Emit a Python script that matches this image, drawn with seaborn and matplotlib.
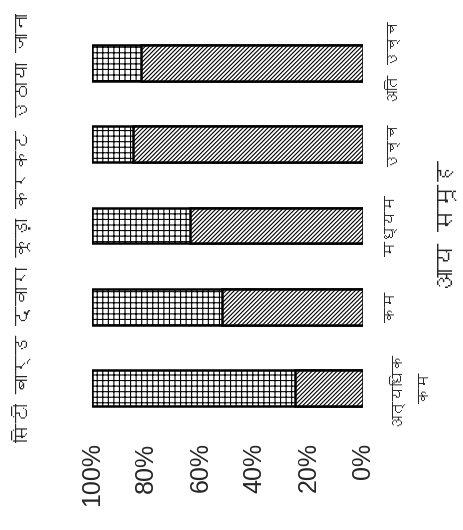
import matplotlib
matplotlib.use("Agg")
import matplotlib.pyplot as plt
from matplotlib import font_manager
from matplotlib.ft2font import FT2Font
import seaborn as sns

# data
categories = ['अत्यधिक\nकम', 'कम', 'मध्यम', 'उच्च', 'अति उच्च']
collected = [25, 52, 64, 85, 82]      # hatched part, from 0%
not_collected = [75, 48, 36, 15, 18]  # brick part, up to 100%
value_ticks = [0, 20, 40, 60, 80, 100]
title = 'सिटी बार्ड द्वारा कूड़ा करकट उठाया जाना'
xlabel = 'आय समूह'


def find_devanagari_font():
    for f in font_manager.fontManager.ttflist:
        try:
            if 0x0915 in FT2Font(f.fname).get_charmap():
                return f.name
        except Exception:
            pass
    return None


sns.set_theme(style='white')
deva = find_devanagari_font()
fams = ([deva] if deva else []) + ['Liberation Sans', 'DejaVu Sans']
plt.rcParams['font.family'] = fams
plt.rcParams['hatch.linewidth'] = 0.8

fig = plt.figure(figsize=(4.63, 5.30), dpi=100)
ax = fig.add_axes([0.199, 0.1915, 0.585, 0.766])

order = categories[::-1]
total = [a + b for a, b in zip(collected, not_collected)]
sns.barplot(x=total, y=categories, order=order, orient='h', ax=ax,
            color='white', edgecolor='black', linewidth=1.8, width=0.44,
            hatch='+++')
sns.barplot(x=collected, y=categories, order=order, orient='h', ax=ax,
            color='white', edgecolor='black', linewidth=1.8, width=0.44,
            hatch='////////')

ax.set_xlim(100, 0)
ax.set_xticks(value_ticks)
ax.set_xticklabels([f'{v}%' for v in value_ticks], rotation=90,
                   fontsize=18, family=['Liberation Sans', 'DejaVu Sans'])
ax.tick_params(axis='x', pad=10, length=0)

ax.yaxis.tick_right()
ax.yaxis.set_label_position('right')
ax.tick_params(axis='y', length=0, pad=16)
for lab in ax.get_yticklabels():
    lab.set_rotation(90)
    lab.set_fontsize(11)
    lab.set_ha('left')
    lab.set_va('center')
    lab.set_multialignment('center')
    lab.set_linespacing(2.6)
ax.set_ylabel(xlabel, fontsize=17, rotation=90, labelpad=4)
ax.set_xlabel('')

for s in ax.spines.values():
    s.set_visible(False)

fig.text(0.045, 0.57, title, rotation=90, fontsize=14,
         ha='center', va='center')

fig.savefig('out.png', dpi=100, facecolor='white')
